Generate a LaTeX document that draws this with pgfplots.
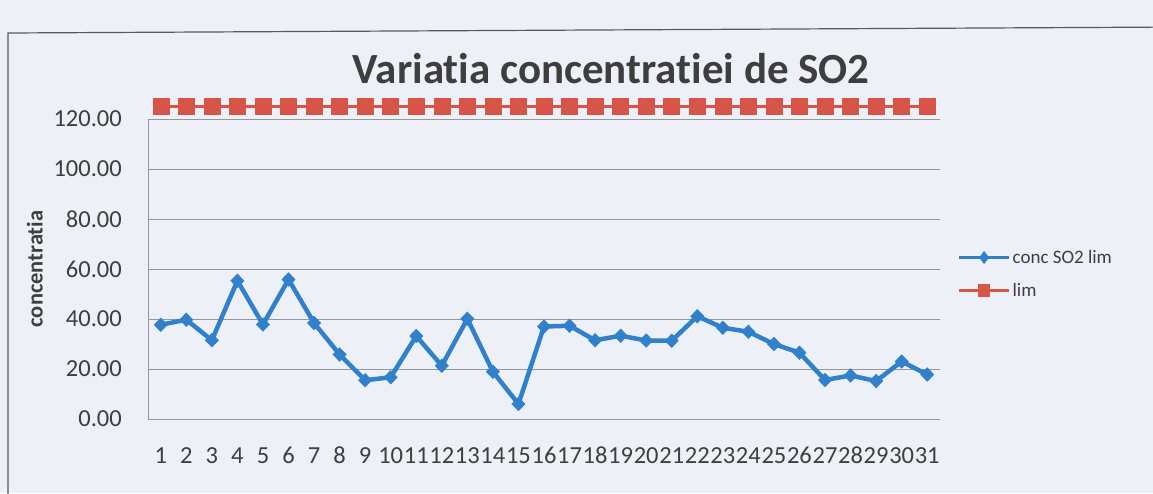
\documentclass[border=0pt]{standalone}
\usepackage{fontspec}
\setmainfont{Carlito}[Ligatures=NoCommon]
\usepackage{pgfplots}
\pgfplotsset{compat=1.18}
\definecolor{bg}{RGB}{237,241,247}
\definecolor{sblue}{RGB}{48,128,204}
\definecolor{sred}{RGB}{214,84,72}
\definecolor{txt}{RGB}{62,62,62}
\definecolor{gridc}{RGB}{150,150,150}
\begin{document}
\begin{tikzpicture}
\fill[bg] (0,0) rectangle (1153pt,-493pt);
\useasboundingbox (0,0) rectangle (1153pt,-493pt);
\draw[gray!70!black, line width=1.2pt] (8pt,-520pt) -- (8pt,-33pt) -- (1180pt,-27pt);
\begin{axis}[
  at={(148pt,-419pt)}, anchor=south west,
  width=792pt, height=300pt, scale only axis,
  xmin=0.5, xmax=31.5, ymin=0, ymax=120,
  xtick={1,...,31}, ytick={0,20,...,120},
  clip=false,
  axis lines*=left,
  axis line style={draw=gridc, line width=1pt, -},
  ymajorgrids,
  grid style={draw=gridc, line width=0.9pt},
  major tick length=0pt,
  /pgf/number format/assume math mode=true,
  tick label style={font=\fontsize{24.5}{28}\selectfont, text=txt},
  xticklabel style={anchor=base, yshift=-44pt},
  yticklabel style={anchor=east, inner sep=0pt, xshift=-26pt,
    /pgf/number format/fixed, /pgf/number format/fixed zerofill,
    /pgf/number format/precision=2},
  ylabel={concentratia},
  ylabel style={font=\bfseries\fontsize{22.5}{26}\selectfont, text=txt,
    at={(axis description cs:-0.143,0.5)}, anchor=center},
  title={Variatia concentratiei de SO2},
  title style={font=\bfseries\fontsize{43}{50}\selectfont, text=txt,
    at={(0.585,1)}, anchor=base, yshift=30pt},
  legend style={at={(1.022,0.57)}, anchor=north west, draw=none, fill=none,
    font=\fontsize{19}{22}\selectfont, text=txt, row sep=14pt, inner sep=0pt},
  legend cell align=left,
  legend image code/.code={\draw[mark repeat=2,mark phase=2, mark options={scale=0.6}, line width=3pt]
    plot coordinates {(0pt,0pt) (25pt,0pt) (50pt,0pt)};},
]
\addplot[sblue, line width=4.5pt, mark=diamond*, mark size=6.8pt,
  mark options={solid, xscale=1.3, line width=0.5pt}] table {
x y
1 37.7
2 39.7
3 31.5
4 55.3
5 37.8
6 55.8
7 38.4
8 25.8
9 15.5
10 16.7
11 33.2
12 21.3
13 40.1
14 18.9
15 6.0
16 37.0
17 37.3
18 31.5
19 33.3
20 31.4
21 31.3
22 41.1
23 36.5
24 34.9
25 30.0
26 26.5
27 15.6
28 17.4
29 15.2
30 23.0
31 17.8
};
\addlegendentry{conc SO2 lim}
\addplot[sred, line width=2.5pt, mark=square*, mark size=8pt,
  mark options={solid, line width=0.5pt}] table {
x y
1 125
2 125
3 125
4 125
5 125
6 125
7 125
8 125
9 125
10 125
11 125
12 125
13 125
14 125
15 125
16 125
17 125
18 125
19 125
20 125
21 125
22 125
23 125
24 125
25 125
26 125
27 125
28 125
29 125
30 125
31 125
};
\addlegendentry{lim}
\end{axis}
\end{tikzpicture}
\end{document}
